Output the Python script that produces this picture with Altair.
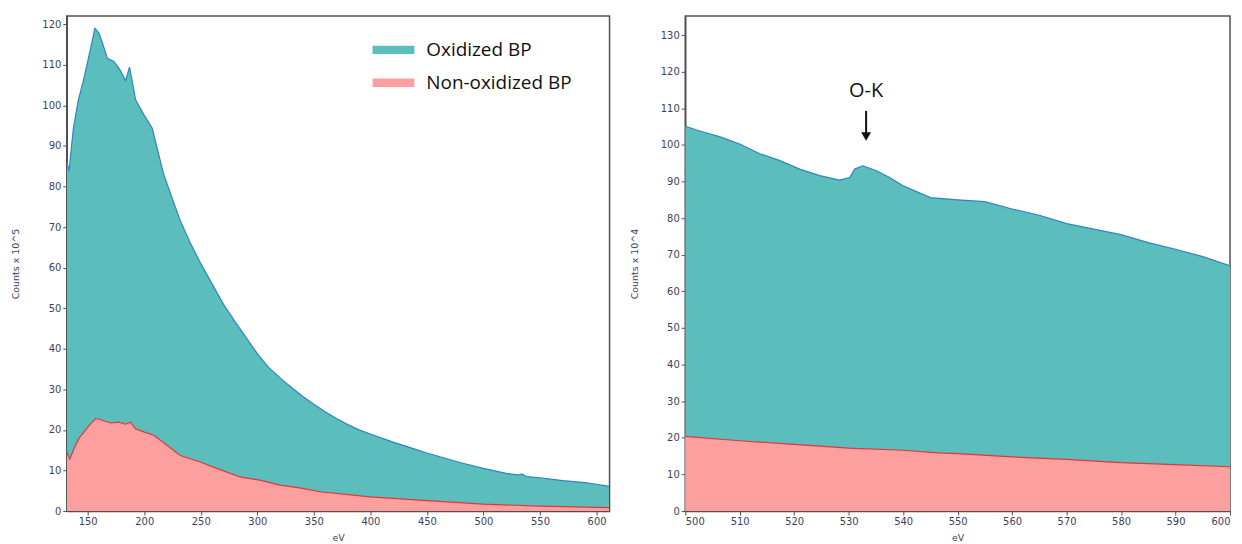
import altair as alt
import pandas as pd

# ---------------- data ----------------
SERIES = ["Oxidized BP", "Non-oxidized BP"]

# Left panel (Counts x 10^5)
left_ox_ev = [131.5, 133.5, 135.6, 137.4, 141.5, 146.7, 152, 156.4, 160, 163.5, 167.3,
              173.2, 178.4, 183.5, 187, 189.4, 192.3, 199.6, 207, 217.2, 224.6, 232,
              240, 250, 260, 270, 280, 290, 300, 310, 322.6, 330, 340, 350, 360, 370,
              380, 390, 400, 420, 440, 450, 460, 480, 500, 520, 530, 534, 538, 550,
              570, 590, 600, 611]
left_ox = [86.2, 83.8, 89.5, 94.4, 101, 106.7, 113.3, 119, 117.8, 115, 111.6,
           110.8, 108.8, 106.1, 109.4, 105.9, 101.4, 97.7, 94.4, 83, 77.2, 71.5,
           66.5, 61, 56, 51, 46.8, 42.8, 38.8, 35.4, 32.2, 30.5, 28.3, 26.3, 24.5, 22.8,
           21.3, 20, 19, 17, 15.2, 14.3, 13.5, 11.9, 10.5, 9.3, 8.9, 9.1, 8.5, 8.2,
           7.5, 7.0, 6.6, 6.1]
left_non_ev = [131.5, 134.1, 137.9, 142.3, 146.7, 152.6, 157, 161.4, 170.2, 177.6, 183.5,
               187.9, 192.3, 199.6, 208.4, 220.2, 231.9, 249.5, 267.1, 284.7, 302.3,
               319.9, 337.6, 355.2, 400, 450, 500, 550, 600, 611]
left_non = [14.6, 12.8, 15.4, 17.9, 19.5, 21.5, 22.8, 22.5, 21.7, 21.9, 21.4,
            21.9, 20.3, 19.5, 18.7, 16.2, 13.7, 12.1, 10.2, 8.4, 7.6,
            6.4, 5.7, 4.75, 3.5, 2.55, 1.7, 1.2, 0.9, 0.85]

# Right panel (Counts x 10^4)
right_ox_ev = [500, 502.7, 506.4, 510.1, 513.7, 517.4, 521, 524.7, 528.3, 530.2, 531.1,
               532.6, 535, 537.5, 539.9, 545, 550, 555, 560, 565, 570, 575, 580, 585,
               590, 595, 600]
right_ox = [105.1, 103.8, 102.2, 100.2, 97.6, 95.7, 93.4, 91.6, 90.4, 91.1, 93.4,
            94.3, 93, 91.1, 88.9, 85.6, 85, 84.5, 82.5, 80.8, 78.5, 77, 75.5, 73.3,
            71.5, 69.5, 67]
right_non_ev = [500, 510, 520, 530, 540, 546.4, 550, 560, 570, 580, 590, 600]
right_non = [20.4, 19.2, 18.2, 17.2, 16.6, 15.9, 15.7, 14.8, 14.1, 13.2, 12.7, 12.1]

# Annotation on the right panel
ann_label = ["O-K"]
ann_ev = [533.2]
ann_text_y = [114.6]
arrow_top = [109.3]
arrow_bottom = [103.2]
arrowhead_y = [102.3]

left_xticks = [150, 200, 250, 300, 350, 400, 450, 500, 550, 600]
left_yticks = list(range(0, 121, 10))
right_xticks = list(range(500, 601, 10))
right_yticks = list(range(0, 131, 10))

# ---------------- styling ----------------
FILLS = ["#5bbdbc", "#fe9f9f"]
EDGES = ["#2a86c6", "#e0383a"]
AXCOL = "#3e3e5e"
AX = dict(labelFont="DejaVu Sans", labelFontSize=10, labelColor=AXCOL,
          tickColor="#505050", tickSize=4, tickWidth=1,
          domainColor="#505050", domainWidth=1.5, grid=False,
          titleFont="DejaVu Sans", titleFontSize=9.5, titleColor=AXCOL,
          titleFontWeight="normal", labelPadding=2)


def panel(ox_ev, ox, non_ev, non, xdom, xticks, ydom, yticks, ytitle, legend):
    df_ox = pd.DataFrame({"eV": ox_ev, "counts": ox, "series": SERIES[0]})
    df_non = pd.DataFrame({"eV": non_ev, "counts": non, "series": SERIES[1]})
    x = alt.X("eV:Q", scale=alt.Scale(domain=xdom, nice=False, zero=False),
              axis=alt.Axis(values=xticks, title="eV", titlePadding=6, **AX))
    y = alt.Y("counts:Q", stack=None, scale=alt.Scale(domain=ydom, nice=False),
              axis=alt.Axis(values=yticks, title=ytitle, titlePadding=21, **AX))
    color = alt.Color("series:N", scale=alt.Scale(domain=SERIES, range=FILLS),
                      legend=legend)
    layers = []
    for df, edge in ((df_ox, EDGES[0]), (df_non, EDGES[1])):
        layers.append(alt.Chart(df).mark_area(opacity=1, clip=True)
                      .encode(x=x, y=y, color=color))
        layers.append(alt.Chart(df).mark_line(color=edge, strokeWidth=1.2, clip=True)
                      .encode(x=x, y=y))
    return layers, x, y


legend = alt.Legend(orient="none", legendX=317.5, legendY=23.5, title=None, padding=0,
                    labelFont="Open Sans", labelFontSize=19, labelColor="#111111",
                    symbolType="M-2,-0.4H2V0.4H-2Z", symbolSize=441,
                    symbolStrokeWidth=0, symbolOpacity=1, labelOffset=22.5,
                    rowPadding=12, labelLimit=400)

left_layers, _, _ = panel(left_ox_ev, left_ox, left_non_ev, left_non, [131.5, 611.5],
                          left_xticks, [0, 122], left_yticks, "Counts x 10^5", legend)
right_layers, rx, ry = panel(right_ox_ev, right_ox, right_non_ev, right_non, [500, 600],
                             right_xticks, [0, 135.2], right_yticks, "Counts x 10^4", None)

ann_text = pd.DataFrame({"eV": ann_ev, "counts": ann_text_y, "label": ann_label})
ann_arrow = pd.DataFrame({"eV": ann_ev, "counts": arrow_top, "counts2": arrow_bottom})
ann_head = pd.DataFrame({"eV": ann_ev, "counts": arrowhead_y})

right_layers += [
    alt.Chart(ann_text).mark_text(font="Open Sans", fontSize=20, color="#111111",
                                  baseline="middle").encode(x=rx, y=ry, text="label:N"),
    alt.Chart(ann_arrow).mark_rule(color="#111111", strokeWidth=2)
    .encode(x=rx, y=ry, y2=alt.Y2("counts2:Q")),
    alt.Chart(ann_head).mark_point(shape="triangle-down", filled=True, color="#111111",
                                   size=100, opacity=1).encode(x=rx, y=ry),
]

left = alt.layer(*left_layers).properties(width=545, height=497)
right = alt.layer(*right_layers).properties(width=547, height=497)

chart = (
    alt.hconcat(left, right, spacing=18)
    .resolve_scale(color="independent")
    .resolve_legend(color="independent")
    .properties(padding={"left": 2, "top": 6, "right": 2, "bottom": 0},
                background="white")
    .configure_view(stroke="#505050", strokeWidth=1.5)
)

chart.save("out.html", embed_options={"renderer": "svg", "actions": False})
